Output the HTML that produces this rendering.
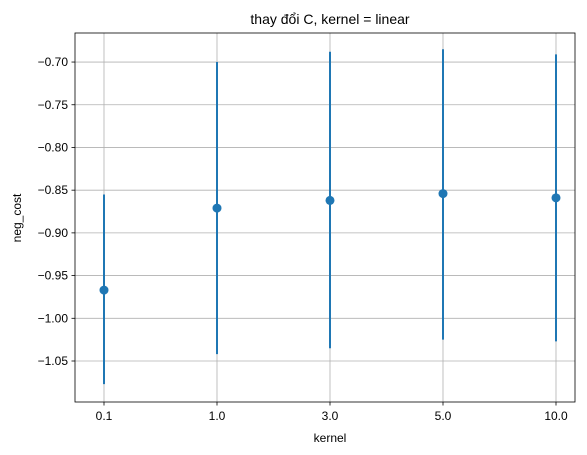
<!DOCTYPE html>
<html><head><meta charset="utf-8"><style>
body{margin:0;background:#fff;}
svg{display:block;font-family:"Liberation Sans","DejaVu Sans",sans-serif;}
</style></head><body>
<svg id="chart" width="587" height="455">
<rect x="75" y="33" width="500" height="369" fill="#fff"/>
<g id="grid"></g><g id="marks"></g><g id="axes"></g>
<text x="330" y="24" text-anchor="middle" font-size="14">thay đổi C, kernel = linear</text>
<text x="330" y="442" text-anchor="middle" font-size="12">kernel</text>
<text x="21" y="218" text-anchor="middle" font-size="12" transform="rotate(-90 21 218)">neg_cost</text>
</svg>
<script>
const categories=["0.1","1.0","3.0","5.0","10.0"];
const means=[-0.967,-0.871,-0.862,-0.854,-0.859];
const lows=[-1.077,-1.042,-1.035,-1.025,-1.027];
const highs=[-0.855,-0.700,-0.688,-0.685,-0.691];
const yTicks=[-0.70,-0.75,-0.80,-0.85,-0.90,-0.95,-1.00,-1.05];
const L=75,R=575,T=33,B=402,yMax=-0.666,yMin=-1.098;
const ns="http://www.w3.org/2000/svg";
function xs(i){return 104+i*(556-104)/(categories.length-1);}
function ys(v){return T+(yMax-v)/(yMax-yMin)*(B-T);}
function mk(tag,a,p){const e=document.createElementNS(ns,tag);for(const k in a)e.setAttribute(k,a[k]);p.appendChild(e);return e;}
const g=document.getElementById('grid'),m=document.getElementById('marks'),ax=document.getElementById('axes');
categories.forEach((c,i)=>{
 const x=xs(i);
 let l=mk('line',{x1:x,x2:x,y1:T,y2:B,stroke:'#b0b0b0','stroke-width':0.8},g);
 
 
 let t=mk('line',{x1:x,x2:x,y1:B,y2:B+3.5,stroke:'#000','stroke-width':0.8},ax);
 
 
 let tx=mk('text',{x:x,y:B+18,'text-anchor':'middle','font-size':12},ax);tx.textContent=c;
 
 
 let e=mk('line',{x1:x,x2:x,y1:ys(lows[i]),y2:ys(highs[i]),stroke:'#1f77b4','stroke-width':2},m);
 
 
 let p=mk('circle',{cx:x,cy:ys(means[i]),r:4.5,fill:'#1f77b4'},m);
 
 
});
yTicks.forEach(v=>{
 const y=ys(v);
 let l=mk('line',{x1:L,x2:R,y1:y,y2:y,stroke:'#b0b0b0','stroke-width':0.8},g);
 
 
 let t=mk('line',{x1:L-3.5,x2:L,y1:y,y2:y,stroke:'#000','stroke-width':0.8},ax);
 
 
 let tx=mk('text',{x:L-7,y:y+4,'text-anchor':'end','font-size':12},ax);tx.textContent=(v<0?'\u2212':'')+Math.abs(v).toFixed(2);
 
 
});
let f=mk('rect',{x:L,y:T,width:R-L,height:B-T,fill:'none',stroke:'#000','stroke-width':0.8},ax);


</script>
</body></html>
